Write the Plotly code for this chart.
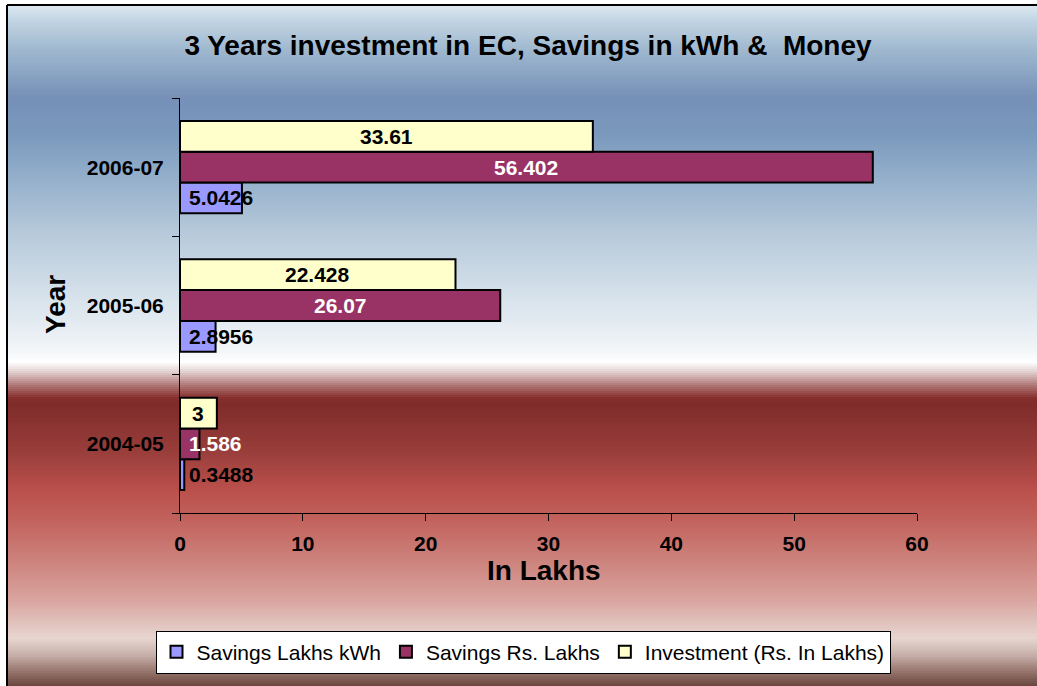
import plotly.graph_objects as go

# ---------------- data ----------------
years = ["2004-05", "2005-06", "2006-07"]
savings_kwh = [0.3488, 2.8956, 5.0426]
savings_rs = [1.586, 26.07, 56.402]
investment = [3, 22.428, 33.61]

series_names = ["Savings Lakhs kWh", "Savings Rs. Lakhs", "Investment (Rs. In Lakhs)"]
series_values = [savings_kwh, savings_rs, investment]
series_colors = ["#9999ff", "#993366", "#ffffcc"]
label_colors = ["black", "white", "black"]

x_ticks = [0, 10, 20, 30, 40, 50, 60]
title_text = "3 Years investment in EC, Savings in kWh &  Money"
x_title = "In Lakhs"
y_title = "Year"

# ---------------- layout geometry ----------------
W, H = 1037, 686
ML, MR, MT, MB = 180, 120, 98, 173
PW, PH = W - ML - MR, H - MT - MB
BARGAP = 0.333
FONT = "Liberation Sans, Arial, sans-serif"
LABEL_SIZE = 21


def px_to_paper_x(px):
    return (px - ML) / PW


def px_to_paper_y(py):
    return (H - MB - py) / PH


# background gradient stops (pixel y, colour)
grad_stops = [
    (5, "#dde9f1"), (20, "#c3d5e3"), (50, "#9fb8cf"), (97, "#7690b8"),
    (133, "#7a98bc"), (167, "#8eaac8"), (233, "#b6c9da"), (300, "#d8e3ec"),
    (343, "#eef2f6"), (356, "#f7f9fb"), (362, "#ffffff"), (372, "#e2d0d0"),
    (385, "#b07878"), (398, "#862f2d"), (405, "#7f2c2a"), (450, "#983d3a"),
    (490, "#ba504b"), (520, "#c2625d"), (560, "#cd827c"), (600, "#d9a49f"),
    (638, "#e7d6d0"), (655, "#c8b0aa"), (670, "#9a7a72"), (686, "#6a463e"),
]


def hex2rgb(h):
    h = h.lstrip("#")
    return tuple(int(h[i:i + 2], 16) for i in (0, 2, 4))


def grad_color(py):
    if py <= grad_stops[0][0]:
        return grad_stops[0][1]
    for (y0, c0), (y1, c1) in zip(grad_stops, grad_stops[1:]):
        if y0 <= py <= y1:
            t = (py - y0) / (y1 - y0)
            a, b = hex2rgb(c0), hex2rgb(c1)
            r = [round(a[k] + (b[k] - a[k]) * t) for k in range(3)]
            return "rgb(%d,%d,%d)" % tuple(r)
    return grad_stops[-1][1]


shapes = []
STEP = 2
for py in range(5, H, STEP):
    shapes.append(dict(
        type="rect", xref="paper", yref="paper", layer="below",
        x0=px_to_paper_x(7), x1=px_to_paper_x(W + 2),
        y0=px_to_paper_y(py + STEP + 0.5), y1=px_to_paper_y(py),
        fillcolor=grad_color(py + STEP / 2), line=dict(width=0),
    ))
# outer frame (top and left edges visible)
shapes.append(dict(type="line", xref="paper", yref="paper", layer="above",
                   x0=px_to_paper_x(7), x1=px_to_paper_x(W + 2),
                   y0=px_to_paper_y(5), y1=px_to_paper_y(5),
                   line=dict(color="black", width=2)))
shapes.append(dict(type="line", xref="paper", yref="paper", layer="above",
                   x0=px_to_paper_x(7), x1=px_to_paper_x(7),
                   y0=px_to_paper_y(5), y1=px_to_paper_y(H + 2),
                   line=dict(color="black", width=2)))

fig = go.Figure()
for name, vals, col in zip(series_names, series_values, series_colors):
    fig.add_trace(go.Bar(
        y=years, x=vals, name=name, orientation="h",
        marker=dict(color=col, line=dict(color="black", width=2)),
        hoverinfo="x+name",
    ))

# data labels (centred, or pushed right of the axis when they don't fit)
char_w = {".": 0.278}
annotations = []
n = len(series_values)
bar_w = (1 - BARGAP) / n
for j, (vals, lc) in enumerate(zip(series_values, label_colors)):
    for i, v in enumerate(vals):
        txt = ("%g" % v)
        tw = sum(char_w.get(c, 0.556) for c in txt) * LABEL_SIZE
        bar_px = v * PW / (x_ticks[-1] - x_ticks[0])
        ypos = i - (1 - BARGAP) / 2 + (j + 0.5) * bar_w
        if tw + 4 <= bar_px:
            a = dict(x=v / 2, xanchor="center", xshift=0)
        else:
            a = dict(x=0, xanchor="left", xshift=7)
        a.update(y=ypos, xref="x", yref="y", text=txt, showarrow=False,
                 yanchor="middle",
                 font=dict(family=FONT, size=LABEL_SIZE, color=lc, weight="bold"))
        annotations.append(a)

annotations.append(dict(
    text=y_title, xref="paper", yref="paper", x=px_to_paper_x(55),
    y=px_to_paper_y(305), textangle=-90, showarrow=False,
    xanchor="center", yanchor="middle",
    font=dict(family=FONT, size=28, color="black", weight="bold")))
annotations.append(dict(
    text=x_title, xref="paper", yref="paper", x=px_to_paper_x(544),
    y=px_to_paper_y(570), showarrow=False, xanchor="center", yanchor="middle",
    font=dict(family=FONT, size=28, color="black", weight="bold")))

fig.update_layout(
    width=W, height=H,
    margin=dict(l=ML, r=MR, t=MT, b=MB, pad=0),
    paper_bgcolor="white", plot_bgcolor="rgba(0,0,0,0)",
    barmode="group", bargap=BARGAP, bargroupgap=0,
    title=dict(text=title_text, x=px_to_paper_x(528), xref="paper",
               xanchor="center", y=1 - 45 / H, yref="container",
               yanchor="middle",
               font=dict(family=FONT, size=28, color="black", weight="bold")),
    xaxis=dict(range=[x_ticks[0], x_ticks[-1]], tickvals=x_ticks,
               ticks="outside", ticklen=7, tickwidth=1, tickcolor="black",
               showline=True, linecolor="black", linewidth=1,
               showgrid=False, zeroline=False, ticklabelstandoff=5,
               tickfont=dict(family=FONT, size=21, color="black", weight="bold")),
    yaxis=dict(type="category", categoryorder="array", categoryarray=years,
               ticks="outside", tickson="boundaries", ticklen=7, tickwidth=1,
               tickcolor="black", showline=True, linecolor="black",
               linewidth=1, showgrid=False, zeroline=False,
               ticklabelstandoff=11,
               tickfont=dict(family=FONT, size=21, color="black", weight="bold")),
    legend=dict(orientation="h", x=px_to_paper_x(523), xanchor="center",
                y=px_to_paper_y(652), yanchor="middle", traceorder="normal",
                bgcolor="white", bordercolor="black", borderwidth=1,
                font=dict(family=FONT, size=21, color="black")),
    shapes=shapes,
    annotations=annotations,
    showlegend=True,
)

fig.write_html("out.html", config={"displayModeBar": False},
               post_script="document.body.style.margin='0';")
